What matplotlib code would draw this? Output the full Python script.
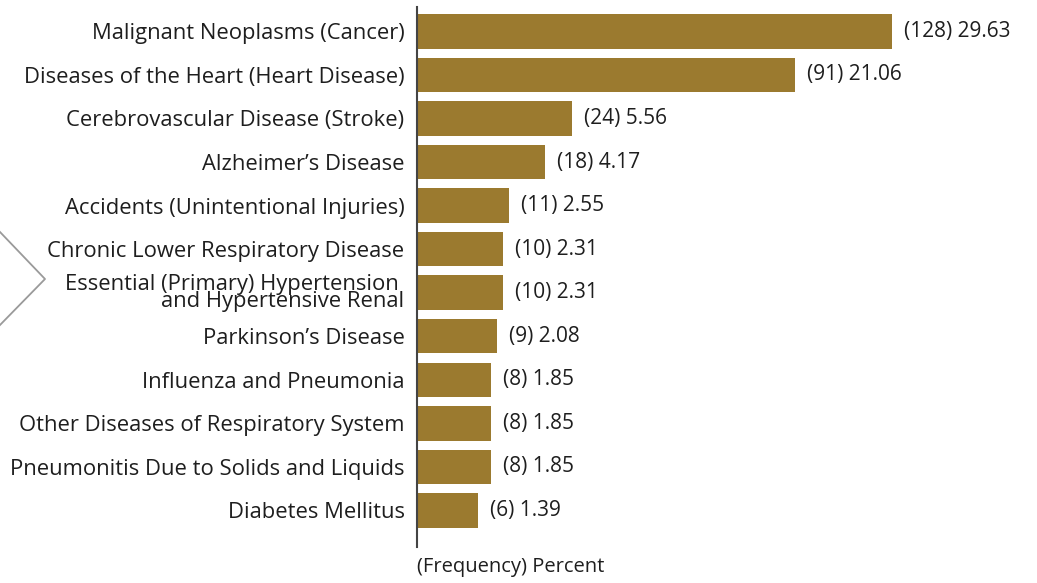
import numpy as np
import matplotlib.pyplot as plt
from matplotlib.lines import Line2D

causes = [
    "Malignant Neoplasms (Cancer)",
    "Diseases of the Heart (Heart Disease)",
    "Cerebrovascular Disease (Stroke)",
    "Alzheimer\u2019s Disease",
    "Accidents (Unintentional Injuries)",
    "Chronic Lower Respiratory Disease",
    "Essential (Primary) Hypertension \nand Hypertensive Renal",
    "Parkinson\u2019s Disease",
    "Influenza and Pneumonia",
    "Other Diseases of Respiratory System",
    "Pneumonitis Due to Solids and Liquids",
    "Diabetes Mellitus",
]
frequency = [128, 91, 24, 18, 11, 10, 10, 9, 8, 8, 8, 6]
percent = [29.63, 21.06, 5.56, 4.17, 2.55, 2.31, 2.31, 2.08, 1.85, 1.85, 1.85, 1.39]

bar_color = '#9b7a2f'
text_color = '#1e1e1e'
p = 0.67  # the original bars are not drawn to a linear scale

plt.rcParams['font.family'] = ['Open Sans', 'DejaVu Sans']

fig = plt.figure(figsize=(10.37, 5.83), dpi=100)
ax = fig.add_axes([417 / 1037, 1 - 547 / 583, 620 / 1037, (547 - 7) / 583])

ax.set_xscale('function', functions=(lambda x: np.sign(x) * np.abs(x) ** p,
                                     lambda x: np.sign(x) * np.abs(x) ** (1 / p)))

y = np.arange(len(causes))
ax.barh(y, percent, height=0.79, color=bar_color)

for yi, f, v in zip(y, frequency, percent):
    ax.annotate(f"({f}) {v:.2f}", (v, yi), xytext=(12, 0), textcoords='offset pixels',
                va='center', ha='left', fontsize=15, color=text_color)

ax.set_xlim(0, max(percent) * (620 / 475) ** (1 / p))
ax.set_ylim(len(causes) - 1 + 0.84, -0.56)

ax.set_yticks(y, causes, fontsize=15.8, color=text_color, linespacing=0.75)
ax.tick_params(axis='y', length=0, pad=9)
ax.set_xticks([])
for s in ['top', 'right', 'bottom']:
    ax.spines[s].set_visible(False)
ax.spines['left'].set_color('#444444')
ax.spines['left'].set_linewidth(1.5)

ax.set_xlabel("(Frequency) Percent", loc='left', fontsize=14.5, color=text_color, labelpad=7)

# grey chevron on the left edge
fig.add_artist(Line2D([0, 45 / 1037, 0], [1 - 232 / 583, 1 - 279 / 583, 1 - 325 / 583],
                      transform=fig.transFigure, color='#9a9a9a', lw=1.3))

fig.savefig('out.png', dpi=100)
